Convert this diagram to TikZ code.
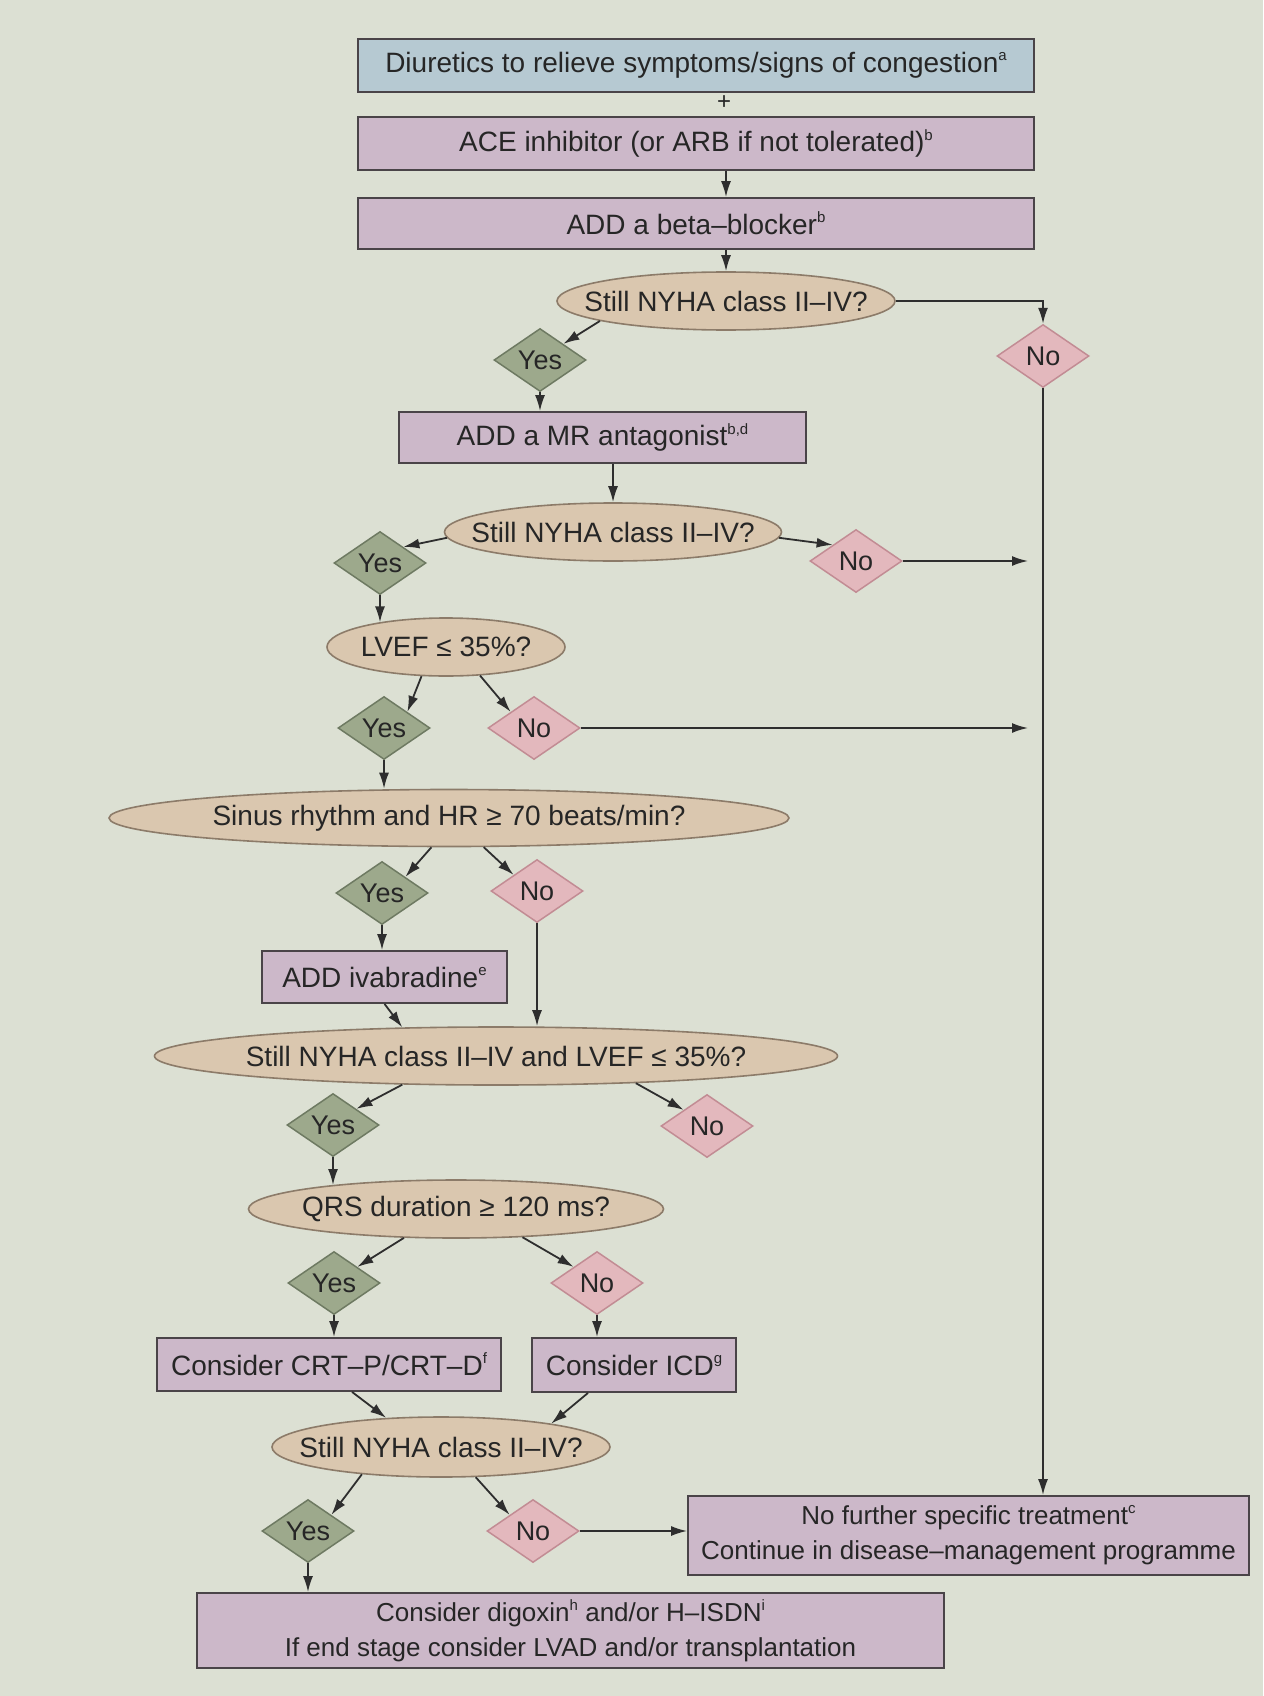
\documentclass[tikz,border=0pt]{standalone}
\usepackage{fontspec}
\setmainfont{Liberation Sans}
\usetikzlibrary{shapes.geometric,arrows.meta,calc}
\definecolor{bg}{HTML}{DCE0D3}
\definecolor{bluef}{HTML}{B6C9D2}
\definecolor{purf}{HTML}{CCB8C9}
\definecolor{boxb}{HTML}{4A4448}
\definecolor{ellf}{HTML}{DAC7AF}
\definecolor{ellb}{HTML}{8C7B69}
\definecolor{yesf}{HTML}{9DA98C}
\definecolor{yesb}{HTML}{6E7A62}
\definecolor{nof}{HTML}{E3B8BD}
\definecolor{nob}{HTML}{C28C94}
\definecolor{txt}{HTML}{262626}
\definecolor{linec}{HTML}{2E2E2E}
\newcommand\supr[1]{\raisebox{0.8ex}{\fontsize{15}{15}\selectfont #1}}
\begin{document}
\begin{tikzpicture}[x=1pt,y=-1pt,
  pbox/.style={rectangle, draw=boxb, line width=1.8pt, fill=purf, inner sep=0pt, text=txt, font=\fontsize{28}{34}\selectfont},
  bbox/.style={pbox, fill=bluef},
  tbox/.style={pbox, align=center, font=\fontsize{26}{35}\selectfont},
  ellq/.style={ellipse, draw=ellb, line width=1.6pt, fill=ellf, inner sep=0pt, minimum height=58pt, text=txt, font=\fontsize{28}{34}\selectfont},
  yesd/.style={diamond, draw=yesb, line width=1.5pt, fill=yesf, inner sep=0pt, minimum width=92pt, minimum height=63pt, text=txt, font=\fontsize{27}{32}\selectfont},
  nod/.style={yesd, draw=nob, fill=nof},
  arr/.style={draw=linec, line width=1.8pt, -{Latex[length=16pt,width=10pt]}}
]
\fill[bg] (0,0) rectangle (1263,1696);
\useasboundingbox (0,0) rectangle (1263,1696);

% nodes
\node[bbox, minimum width=676pt, minimum height=53pt] (diur) at (696,65.5) {Diuretics to relieve symptoms/signs of congestion\supr{a}};
\node[text=txt, font=\fontsize{24}{24}\selectfont, inner sep=0pt] (plus) at (724,103) {+};
\node[pbox, minimum width=676pt, minimum height=53pt] (ace) at (696,143.5) {ACE inhibitor (or ARB if not tolerated)\supr{b}};
\node[pbox, minimum width=676pt, minimum height=51pt] (beta) at (696,223.5) {ADD a beta–blocker\supr{b}};
\node[ellq, minimum width=338pt] (e1) at (726,301) {\makebox[0pt]{Still NYHA class II–IV?}};
\node[yesd] (y1) at (540,360) {\makebox[0pt]{Yes}};
\node[nod] (n1) at (1043,356) {\makebox[0pt]{No}};
\node[pbox, minimum width=407pt, minimum height=51pt] (mr) at (602.5,437.5) {ADD a MR antagonist\supr{b,d}};
\node[ellq, minimum width=337pt] (e2) at (613,532) {\makebox[0pt]{Still NYHA class II–IV?}};
\node[yesd] (y2) at (380,563) {\makebox[0pt]{Yes}};
\node[nod] (n2) at (856,561) {\makebox[0pt]{No}};
\node[ellq, minimum width=238pt] (lvef) at (446,647) {\makebox[0pt]{LVEF ≤ 35\%?}};
\node[yesd] (y3) at (384,728) {\makebox[0pt]{Yes}};
\node[nod] (n3) at (534,728) {\makebox[0pt]{No}};
\node[ellq, minimum width=680pt, minimum height=57pt] (sinus) at (449,818) {\makebox[0pt]{Sinus rhythm and HR ≥ 70 beats/min?}};
\node[yesd] (y4) at (382,893) {\makebox[0pt]{Yes}};
\node[nod] (n4) at (537,891) {\makebox[0pt]{No}};
\node[pbox, minimum width=245pt, minimum height=52pt] (ivab) at (384.5,977) {ADD ivabradine\supr{e}};
\node[ellq, minimum width=683pt] (big) at (496,1056) {\makebox[0pt]{Still NYHA class II–IV and LVEF ≤ 35\%?}};
\node[yesd] (y5) at (333,1125) {\makebox[0pt]{Yes}};
\node[nod] (n5) at (707,1126) {\makebox[0pt]{No}};
\node[ellq, minimum width=415pt] (qrs) at (456,1209) {\makebox[0pt]{QRS duration ≥ 120 ms?}};
\node[yesd] (y6) at (334,1283) {\makebox[0pt]{Yes}};
\node[nod] (n6) at (597,1283) {\makebox[0pt]{No}};
\node[pbox, minimum width=344pt, minimum height=53pt] (crt) at (329,1364.5) {Consider CRT–P/CRT–D\supr{f}};
\node[pbox, minimum width=204pt, minimum height=54pt] (icd) at (634,1365) {Consider ICD\supr{g}};
\node[ellq, minimum width=338pt, minimum height=60pt] (e7) at (441,1447) {\makebox[0pt]{Still NYHA class II–IV?}};
\node[yesd] (y7) at (308,1531) {\makebox[0pt]{Yes}};
\node[nod] (n7) at (533,1531) {\makebox[0pt]{No}};
\node[tbox, minimum width=561pt, minimum height=79pt] (nf) at (968.5,1535.5) {No further specific treatment\supr{c}\\Continue in disease–management programme};
\node[tbox, minimum width=747pt, minimum height=75pt] (dig) at (570.5,1630.5) {Consider digoxin\supr{h} and/or H–ISDN\supr{i}\\If end stage consider LVAD and/or transplantation};

\coordinate (t2) at (1028,561);
\coordinate (t3) at (1028,728);

% connectors
\draw[arr] (ace.south -| e1.north) -- (beta.north -| e1.north);
\draw[arr] (beta.south -| e1.north) -- (e1.north);
\draw[arr] (e1.east) -| (n1.north);
\draw[arr] (e1.-171) -- (y1.north east);
\draw[arr] (y1.south) -- (y1.south |- mr.north);
\draw[arr] (n1.south) -- (n1.south |- nf.north);
\draw[arr] (mr.south -| e2.north) -- (e2.north);
\draw[arr] (e2.-178) -- (y2.north east);
\draw[arr] (e2.-2) -- (n2.north west);
\draw[arr] (n2.east) -- (n2.east -| t2);
\draw[arr] (y2.south) -- (y2.south |- lvef.160);
\draw[arr] (lvef.-130) -- (y3.north east);
\draw[arr] (lvef.-40) -- (n3.north west);
\draw[arr] (n3.east) -- (n3.east -| t3);
\draw[arr] (y3.south) -- (y3.south |- sinus.north);
\draw[arr] (sinus.-121) -- (y4.north east);
\draw[arr] (sinus.-40) -- (n4.north west);
\draw[arr] (y4.south) -- (y4.south |- ivab.north);
\draw[arr] (ivab.south) -- (big.163);
\draw[arr] (n4.south) -- (n4.south |- big.north);
\draw[arr] (big.-163) -- (y5.north east);
\draw[arr] (big.-11) -- (n5.north west);
\draw[arr] (y5.south) -- (y5.south |- qrs.169);
\draw[arr] (qrs.-151) -- (y6.north east);
\draw[arr] (qrs.-23) -- (n6.north west);
\draw[arr] (y6.south) -- (y6.south |- crt.north);
\draw[arr] (n6.south) -- (n6.south |- icd.north);
\draw[arr] ($(crt.south)+(23,0)$) -- (e7.152);
\draw[arr] ($(icd.south)+(-46,0)$) -- (e7.12);
\draw[arr] (e7.-161) -- (y7.north east);
\draw[arr] (e7.-41) -- (n7.north west);
\draw[arr] (y7.south) -- (y7.south |- dig.north);
\draw[arr] (n7.east) -- (n7.east -| nf.west);
\end{tikzpicture}
\end{document}
